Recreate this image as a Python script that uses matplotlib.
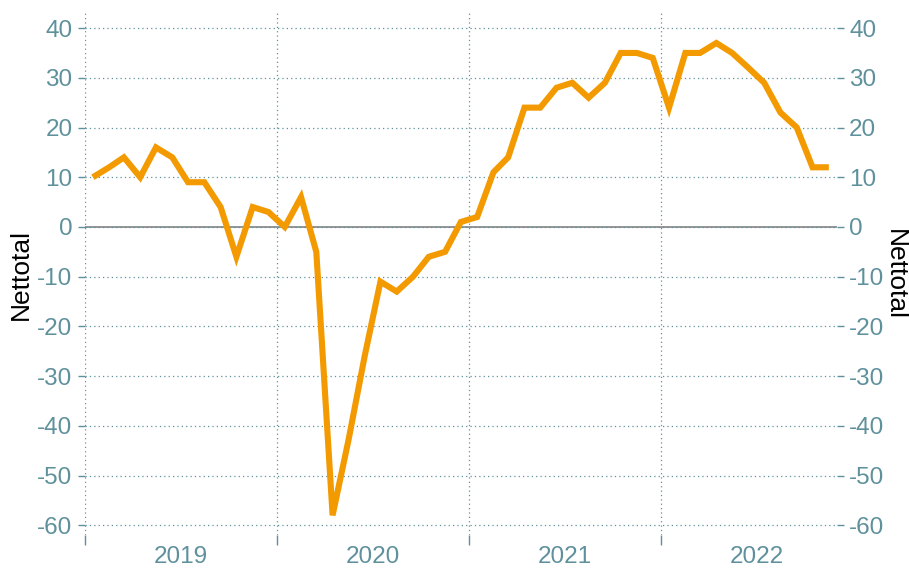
import matplotlib.pyplot as plt
import matplotlib.dates as mdates
import numpy as np
import pandas as pd

plt.rcParams['font.family'] = ['Liberation Sans', 'DejaVu Sans']
plt.rcParams['axes.unicode_minus'] = False

# monthly net balance, Jan 2019 - Nov 2022
values = [10, 12, 14, 10, 16, 14, 9, 9, 4, -6, 4, 3,
          0, 6, -5, -58, -43, -26, -11, -13, -10, -6, -5, 1,
          2, 11, 14, 24, 24, 28, 29, 26, 29, 35, 35, 34,
          24, 35, 35, 37, 35, 32, 29, 23, 20, 12, 12]
months = pd.date_range('2019-01-01', periods=len(values), freq='MS') + pd.Timedelta(days=15)
years = ['2019', '2020', '2021', '2022']
yticks = [40, 30, 20, 10, 0, -10, -20, -30, -40, -50, -60]

teal = '#5f919c'
orange = '#f39a00'

fig = plt.figure(figsize=(9.09, 5.73), dpi=100)
ax = fig.add_axes([0.0935, 0.066, 0.827, 0.911])

ax.axhline(0, color='#8c8c8c', lw=1.3, zorder=1)
ax.plot(months, values, color=orange, lw=4.4, solid_joinstyle='miter', solid_capstyle='butt', zorder=3)

ax.set_xlim(pd.Timestamp('2019-01-01'), pd.Timestamp('2022-12-01'))
ax.set_ylim(-62, 43)

year_starts = [pd.Timestamp(y + '-01-01') for y in years]
year_mids = [pd.Timestamp(y + '-07-02') for y in years]
ax.set_xticks(year_starts)
ax.set_xticklabels([])
ax.set_xticks(year_mids, minor=True)
ax.set_xticklabels(years, minor=True)
ax.tick_params(axis='x', which='major', length=7, color=teal, width=1)
ax.tick_params(axis='x', which='minor', length=0, pad=8, labelsize=17.5, labelcolor=teal)

ax.set_yticks(yticks)
ax.tick_params(axis='y', length=5, color=teal, width=1, pad=4, labelsize=17.5, labelcolor=teal)

ax.grid(True, which='major', color=teal, ls=(0, (1, 2.5)), lw=0.9)
for s in ax.spines.values():
    s.set_visible(False)
ax.set_ylabel('Nettotal', fontsize=19, color='black', labelpad=3)

ax2 = ax.twinx()
ax2.set_ylim(ax.get_ylim())
ax2.set_yticks(yticks)
ax2.tick_params(axis='y', length=5, color=teal, width=1, pad=4, labelsize=17.5, labelcolor=teal)
for s in ax2.spines.values():
    s.set_visible(False)
ax2.set_ylabel('Nettotal', fontsize=19, color='black', rotation=-90, labelpad=16)

fig.savefig('out.png', dpi=100)
